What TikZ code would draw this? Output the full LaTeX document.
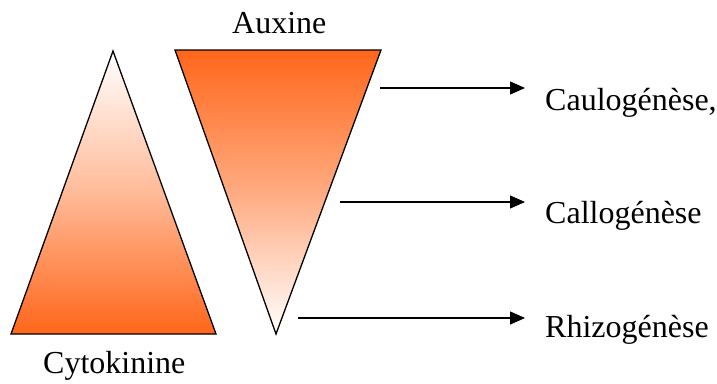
\documentclass[tikz,border=0pt]{standalone}
\usepackage{fontspec}
\setmainfont{Liberation Serif}
\usetikzlibrary{arrows.meta}
\definecolor{hormone}{RGB}{255,102,26}
\tikzset{
  tri/.style={draw=black, line width=1.3pt, line join=miter},
  conn/.style={draw=black, line width=1.4pt, -{Triangle[length=15pt,width=13pt]}},
  lbl/.style={anchor=base west, inner sep=0pt, font=\fontsize{32}{36}\selectfont}
}
\begin{document}
\begin{tikzpicture}[x=1pt,y=-1pt]
\useasboundingbox (0,0) rectangle (717,383);
% left triangle (Cytokinine)
\coordinate (cA) at (113,51);
\coordinate (cL) at (11,334);
\coordinate (cR) at (216,334);
\shade[top color=white, bottom color=hormone, middle color=hormone!45!white] (cA) -- (cL) -- (cR) -- cycle;
\draw[tri] (cA) -- (cL) -- (cR) -- cycle;
% inverted triangle (Auxine)
\coordinate (aL) at (175,50);
\coordinate (aR) at (381,50);
\coordinate (aB) at (276,334);
\shade[top color=hormone, bottom color=white, middle color=hormone!55!white] (aL) -- (aR) -- (aB) -- cycle;
\draw[tri] (aL) -- (aR) -- (aB) -- cycle;
% labels
\node[lbl] (aux) at (232,33) {Auxine};
\node[lbl] (cyt) at (43,373) {Cytokinine};
\node[lbl] (cau) at (545,110) {Caulogénèse,};
\node[lbl] (cal) at (545,223) {Callogénèse};
\node[lbl] (rhi) at (545,337) {Rhizogénèse};
% arrows
\coordinate (s1) at (380,88);
\coordinate (e1) at (525,88);
\coordinate (s2) at (340,202);
\coordinate (e2) at (525,202);
\coordinate (s3) at (298,318);
\coordinate (e3) at (525,318);
\draw[conn] (s1) -- (e1);
\draw[conn] (s2) -- (e2);
\draw[conn] (s3) -- (e3);
\end{tikzpicture}
\end{document}
